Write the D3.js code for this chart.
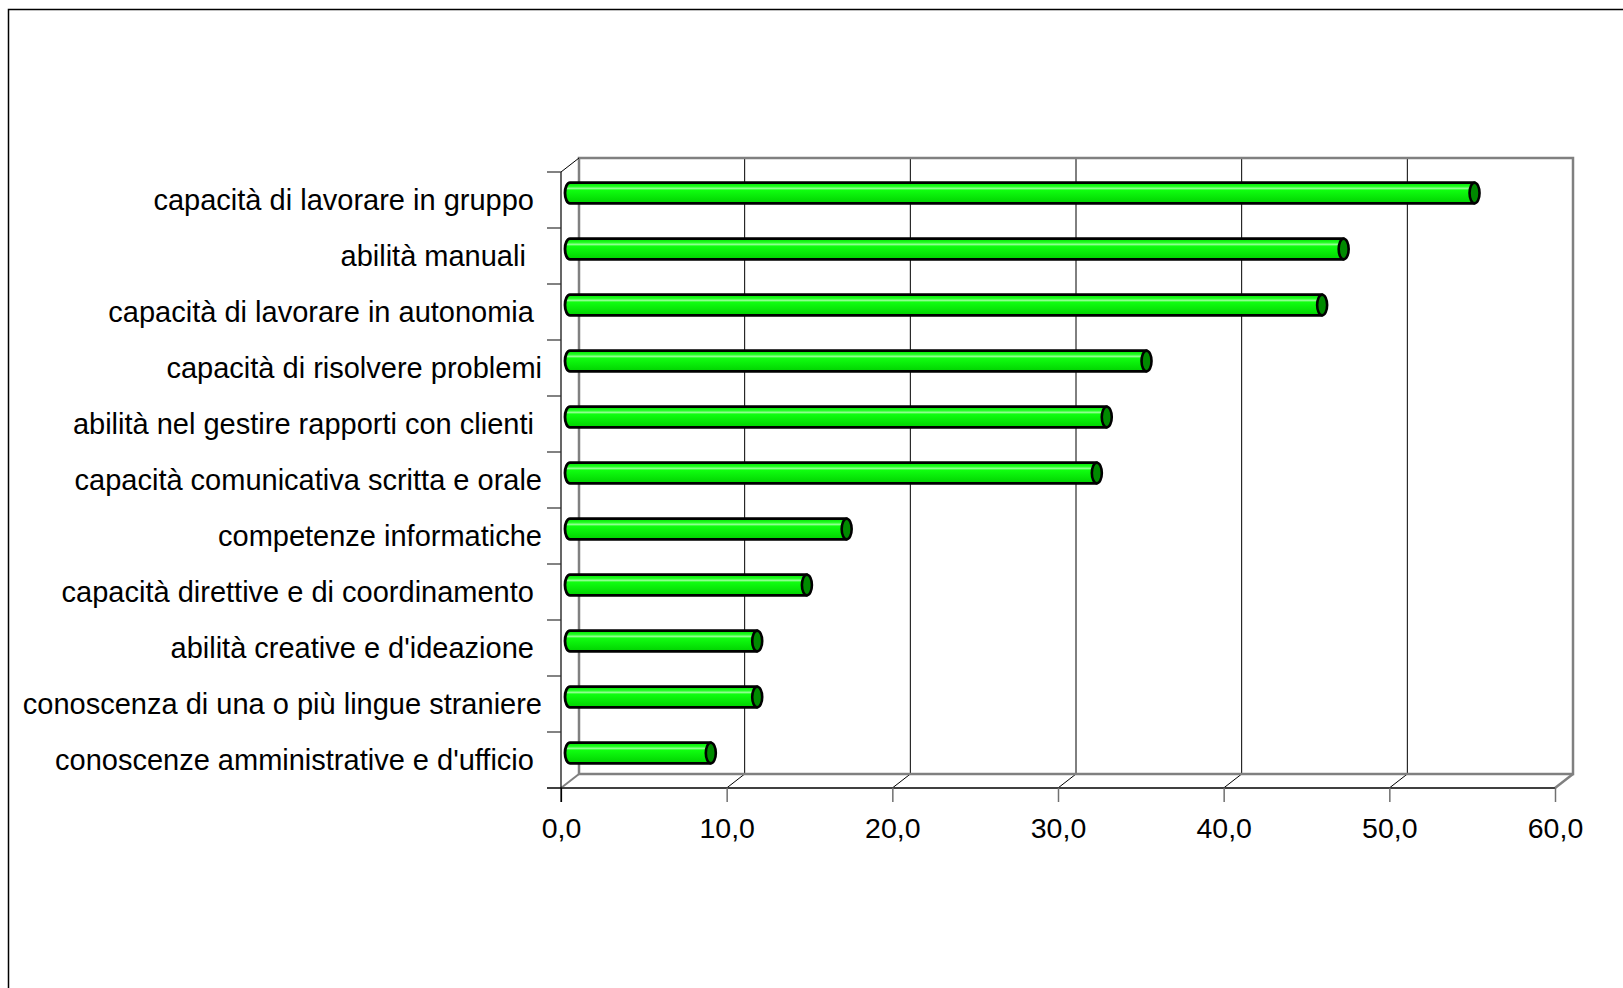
<!DOCTYPE html>
<html>
<head>
<meta charset="utf-8">
<script src="https://cdn.jsdelivr.net/npm/d3@7/dist/d3.min.js"></script>
<style>
	body{margin:0;background:#fff;}
	text{font-family:"Liberation Sans",Arial,sans-serif;white-space:pre;}
</style>
</head>
<body>
<div id="chart_div"></div>
<script>
////////////////////////////////////////
////////////////////////////////////////
////////////////////////////////////////

var categories = [
	'capacità di lavorare in gruppo ',
	'abilità manuali  ',
	'capacità di lavorare in autonomia ',
	'capacità di risolvere problemi',
	'abilità nel gestire rapporti con clienti ',
	'capacità comunicativa scritta e orale',
	'competenze informatiche',
	'capacità direttive e di coordinamento ',
	'abilità creative e d\'ideazione ',
	'conoscenza di una o più lingue straniere',
	'conoscenze amministrative e d\'ufficio '
];
var values = [54.6, 46.7, 45.4, 34.8, 32.4, 31.8, 16.7, 14.3, 11.3, 11.3, 8.5];
var tickValues = [0, 10, 20, 30, 40, 50, 60];

var chart_w = 1623;
var chart_h = 988;

// depth of the 3d box
var depthX = 18;
var depthY = -14;

var plotLeft = 561;
var plotRight = 1555;
var plotTop = 172;
var plotBottom = 788;

var x = d3.scaleLinear().domain([0, 60]).range([plotLeft, plotRight]);
var y = d3.scaleBand().domain(categories).range([plotTop, plotBottom]);

var svg = d3.select('#chart_div').append('svg')
	.attr('width', chart_w)
	.attr('height', chart_h);

var defs = svg.append('defs');
var grad = defs.append('linearGradient')
	.attr('id', 'barGrad')
	.attr('x1', 0).attr('y1', 0).attr('x2', 0).attr('y2', 1);
[['0%', '#00e000'], ['18%', '#20ff20'], ['28%', '#90ff90'], ['36%', '#10ff10'], ['100%', '#00d200']]
	.forEach(function(s){
		grad.append('stop').attr('offset', s[0]).attr('stop-color', s[1]);
	});

// outer frame
svg.append('path')
	.attr('d', 'M8.5,' + chart_h + ' L8.5,9.5 L' + chart_w + ',9.5')
	.attr('fill', 'none')
	.attr('stroke', 'black')
	.attr('stroke-width', 1.5);

////////////////////////////////////////
////////////////////////////////////////
////////////////////////////////////////

// back wall gridlines
svg.append('g').selectAll('line')
	.data(tickValues.slice(1, -1))
	.enter().append('line')
	.attr('x1', function(d){ return x(d) + depthX; })
	.attr('x2', function(d){ return x(d) + depthX; })
	.attr('y1', plotTop + depthY)
	.attr('y2', plotBottom + depthY)
	.attr('stroke', 'black')
	.attr('stroke-width', 1);

// floor diagonals from the ticks
svg.append('g').selectAll('line')
	.data(tickValues.slice(1, -1))
	.enter().append('line')
	.attr('x1', function(d){ return x(d); })
	.attr('x2', function(d){ return x(d) + depthX; })
	.attr('y1', plotBottom)
	.attr('y2', plotBottom + depthY)
	.attr('stroke', 'black')
	.attr('stroke-width', 1);

// back wall border
svg.append('rect')
	.attr('x', plotLeft + depthX)
	.attr('y', plotTop + depthY)
	.attr('width', plotRight - plotLeft)
	.attr('height', plotBottom - plotTop)
	.attr('fill', 'none')
	.attr('stroke', '#808080')
	.attr('stroke-width', 2.5);

// floor edges
svg.append('line')
	.attr('x1', plotLeft).attr('y1', plotBottom)
	.attr('x2', plotLeft + depthX).attr('y2', plotBottom + depthY)
	.attr('stroke', '#808080').attr('stroke-width', 2);
svg.append('line')
	.attr('x1', plotRight).attr('y1', plotBottom)
	.attr('x2', plotRight + depthX).attr('y2', plotBottom + depthY)
	.attr('stroke', '#808080').attr('stroke-width', 2.5);
svg.append('line')
	.attr('x1', plotLeft - 14).attr('y1', plotBottom)
	.attr('x2', plotRight).attr('y2', plotBottom)
	.attr('stroke', '#404040').attr('stroke-width', 2);

// left wall
svg.append('line')
	.attr('x1', plotLeft).attr('y1', plotTop)
	.attr('x2', plotLeft + depthX).attr('y2', plotTop + depthY)
	.attr('stroke', 'black').attr('stroke-width', 1);
svg.append('line')
	.attr('x1', plotLeft).attr('y1', plotTop)
	.attr('x2', plotLeft).attr('y2', plotBottom + 14)
	.attr('stroke', 'black').attr('stroke-width', 1.2);

// category boundary ticks
svg.append('g').selectAll('line')
	.data(d3.range(categories.length))
	.enter().append('line')
	.attr('x1', plotLeft - 14)
	.attr('x2', plotLeft)
	.attr('y1', function(i){ return plotTop + i * y.step(); })
	.attr('y2', function(i){ return plotTop + i * y.step(); })
	.attr('stroke', '#303030')
	.attr('stroke-width', 1.2);

////////////////////////////////////////
////////////////////////////////////////
////////////////////////////////////////

var xAxis = d3.axisBottom(x)
	.tickValues(tickValues)
	.tickSize(14)
	.tickPadding(16)
	.tickFormat(function(d){ return d.toFixed(1).replace('.', ','); });

var xAxisG = svg.append('g')
	.attr('transform', 'translate(0,' + plotBottom + ')')
	.call(xAxis);
xAxisG.select('.domain').remove();
xAxisG.selectAll('.tick line').attr('stroke', '#707070').attr('stroke-width', 1.5);
xAxisG.selectAll('.tick line').filter(function(d){ return d === 0; }).attr('stroke', 'black').attr('stroke-width', 1.2);
xAxisG.selectAll('.tick text')
	.attr('fill', 'black')
	.attr('font-size', 28.5)
	.style('font-family', '"Liberation Sans",Arial,sans-serif');

svg.append('g').selectAll('text')
	.data(categories)
	.enter().append('text')
	.attr('x', 542)
	.attr('y', function(d){ return y(d) + y.bandwidth() / 2; })
	.attr('dy', '0.36em')
	.attr('text-anchor', 'end')
	.attr('font-size', 29)
	.attr('fill', 'black')
	.text(function(d){ return d; });

////////////////////////////////////////
////////////////////////////////////////
////////////////////////////////////////

var barHalf = 10.3;
var capRx = 5;
var barDx = depthX / 2;
var barDy = depthY / 2;

var bars = svg.append('g').selectAll('g')
	.data(values)
	.enter().append('g')
	.attr('transform', function(d, i){
		return 'translate(' + barDx + ',' + (y(categories[i]) + y.bandwidth() / 2 + barDy) + ')';
	});

bars.append('path')
	.attr('d', function(d){
		var x0 = x(0), x1 = x(d);
		return 'M' + x0 + ',' + (-barHalf) +
			' L' + x1 + ',' + (-barHalf) +
			' L' + x1 + ',' + barHalf +
			' L' + x0 + ',' + barHalf +
			' A' + capRx + ',' + barHalf + ' 0 0 1 ' + x0 + ',' + (-barHalf) + ' Z';
	})
	.attr('fill', 'url(#barGrad)')
	.attr('stroke', 'black')
	.attr('stroke-width', 2.8)
	.attr('stroke-linejoin', 'round');

bars.append('ellipse')
	.attr('cx', function(d){ return x(d); })
	.attr('cy', 0)
	.attr('rx', capRx)
	.attr('ry', barHalf)
	.attr('fill', '#008a00')
	.attr('stroke', 'black')
	.attr('stroke-width', 2.6);
</script>
</body>
</html>
